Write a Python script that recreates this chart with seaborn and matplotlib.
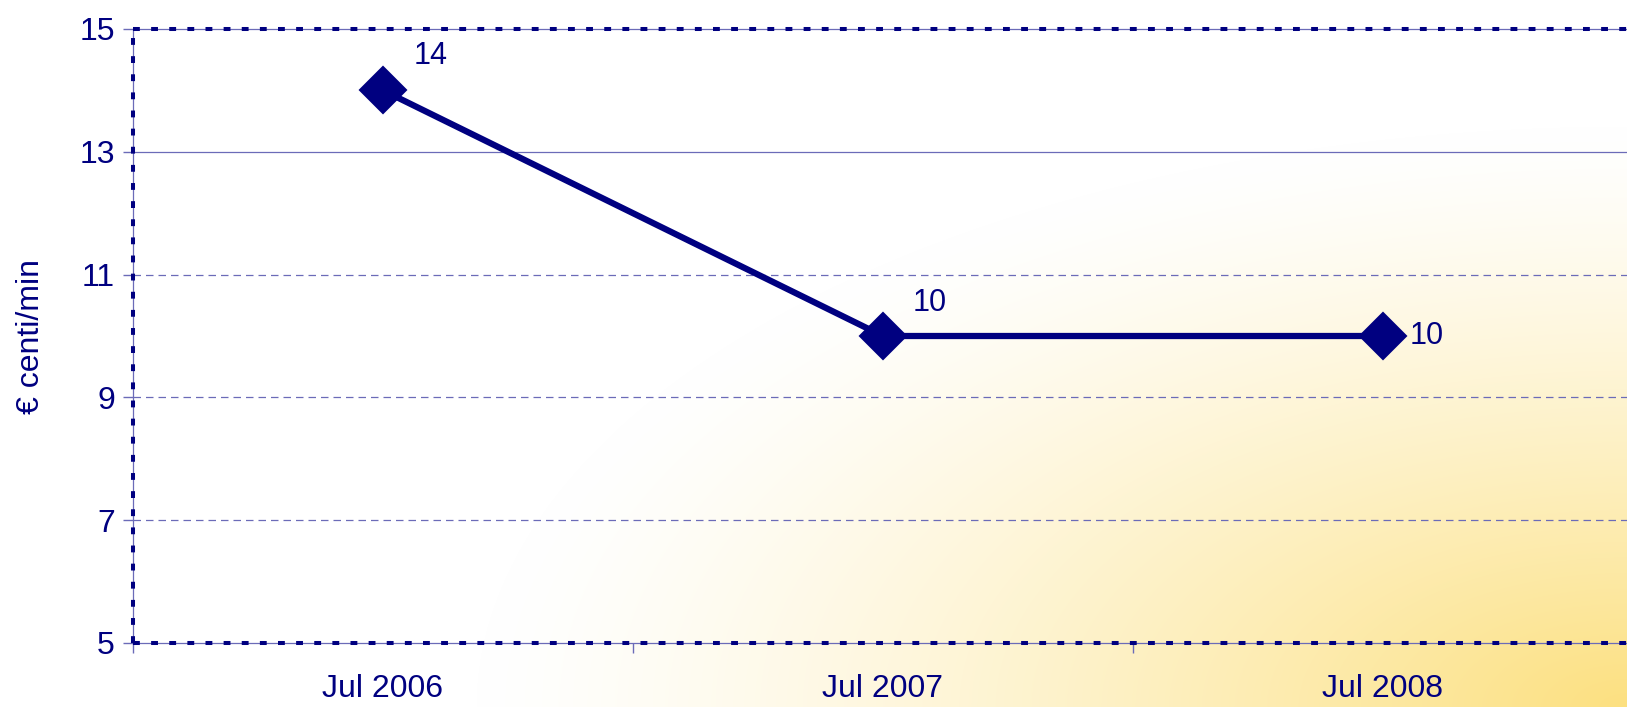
import numpy as np
import pandas as pd
import matplotlib
matplotlib.use('Agg')
import matplotlib.pyplot as plt
import seaborn as sns

# data
periods = ['Jul 2006', 'Jul 2007', 'Jul 2008']
price = [14, 10, 10]
label_offsets = [(48, 34), (47, 33), (44, 0)]  # px, label position relative to marker

NAVY = '#000080'
GRID = '#6b6bb8'

sns.set_style('white')
plt.rcParams['font.family'] = ['Liberation Sans', 'DejaVu Sans']

df = pd.DataFrame({'period': periods, 'price': price})

fig = plt.figure(figsize=(16.27, 7.07), dpi=100)

# background: white fading to yellow towards bottom-right corner
bg = fig.add_axes([0, 0, 1, 1], zorder=0)
W, H = 1627, 707
xx, yy = np.meshgrid(np.arange(W), np.arange(H))
d = np.sqrt(((W - xx) / 1150.0) ** 2 + ((H - yy) / 580.0) ** 2)
t = np.clip(1 - d, 0, 1)[..., None] ** 1.3
white = np.array([1.0, 1.0, 1.0])
yellow = np.array([252, 224, 128]) / 255.0
bg.imshow(white + (yellow - white) * t, aspect='auto', extent=[0, 1, 0, 1], origin='upper')
bg.axis('off')

ax = fig.add_axes([133 / W, 1 - 643 / H, 1500 / W, 614 / H], zorder=1)
ax.patch.set_alpha(0)

sns.lineplot(data=df, x='period', y='price', ax=ax, color=NAVY, linewidth=4.5,
             marker='D', markersize=23, markeredgecolor=NAVY, markeredgewidth=1.5,
             zorder=5)

for i, (p, v) in enumerate(zip(periods, price)):
    ax.annotate(str(v), (i, v), xytext=(label_offsets[i][0] * 0.72, label_offsets[i][1] * 0.72),
                textcoords='offset points', ha='center', va='center',
                fontsize=22, color=NAVY)

ax.set_xlim(-0.5, 2.5)
ax.set_ylim(5, 15)
ax.set_yticks([5, 7, 9, 11, 13, 15])
ax.tick_params(axis='y', labelsize=23, colors=NAVY, length=7, width=1, color=GRID,
               direction='out', left=True, pad=6)
ax.set_xticks(range(len(periods)))
ax.set_xticklabels(periods)
ax.set_xticks([-0.5, 0.5, 1.5, 2.5], minor=True)
ax.tick_params(axis='x', which='major', labelsize=23, colors=NAVY, length=0, pad=22)
ax.tick_params(axis='x', which='minor', length=7, width=1, color=GRID, direction='out', bottom=True)
ax.set_xlabel('')
ax.set_ylabel('€ centi/min', fontsize=23, color=NAVY, labelpad=24)

# gridlines: 13 solid, the rest dashed
for y in [7, 9, 11]:
    ax.axhline(y, color=GRID, linewidth=0.9, linestyle=(0, (6, 4)), zorder=1)
ax.axhline(13, color=GRID, linewidth=0.9, zorder=1)

for s in ax.spines.values():
    s.set_color(GRID)
    s.set_linewidth(0.9)
ax.spines['right'].set_visible(False)

# heavy dotted plot-area border
dot = (0, (1.7, 2.8))
for xs, ys in [([0, 1], [0, 0]), ([0, 1], [1, 1]), ([0, 0], [0, 1])]:
    ax.plot(xs, ys, transform=ax.transAxes, color=NAVY, linewidth=2.9,
            linestyle=dot, clip_on=False, zorder=6, solid_capstyle='butt',
            dash_capstyle='butt')

fig.savefig('out.png', dpi=100)
